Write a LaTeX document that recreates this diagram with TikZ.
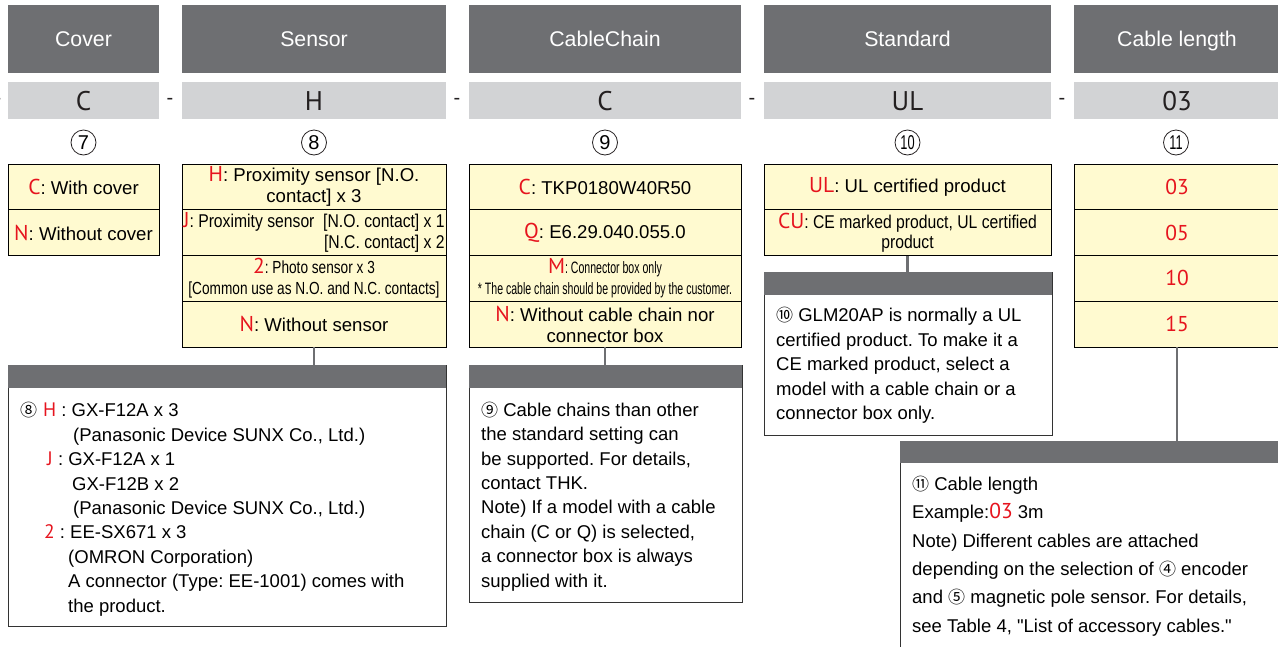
\documentclass[tikz,border=0pt]{standalone}
\usepackage{fontspec}
\setmainfont{Liberation Sans}[Ligatures=TeXOff]
\newfontfamily\labelfont{PT Sans}
\newfontfamily\narrowfont[FakeStretch=0.85]{Liberation Sans}
\newfontfamily\slimfont[FakeStretch=0.78]{Liberation Sans}
\newfontfamily\thinfont[FakeStretch=0.64]{Liberation Sans}
\newfontfamily\symbfont{Noto Sans CJK SC}
\definecolor{headgray}{RGB}{110,111,114}
\definecolor{codegray}{RGB}{210,211,213}
\definecolor{optyellow}{RGB}{255,250,208}
\definecolor{optred}{RGB}{230,20,30}
\definecolor{codeink}{RGB}{35,31,32}
\newcommand{\rd}[1]{{\labelfont\fontsize{21.5}{21}\selectfont\color{optred}#1}}
\newcommand{\rdn}[1]{{\labelfont\fontsize{19.5}{19}\selectfont\color{optred}#1}}
\newcommand{\cn}[1]{{\symbfont\fontsize{17}{17}\selectfont #1}}
\frenchspacing

\begin{document}
\frenchspacing
\begin{tikzpicture}[x=1pt, y=-1pt,
  headbox/.style={fill=headgray, text=white, anchor=north west, inner sep=0pt, outer sep=0pt, minimum height=68pt, text height=15pt, text depth=0pt, font=\fontsize{21.3}{24}\selectfont},
  codebox/.style={fill=codegray, text=codeink, anchor=north west, inner sep=0pt, outer sep=0pt, minimum height=37pt, text height=19pt, text depth=0pt, font=\labelfont\fontsize{27}{30}\selectfont},
  optbox/.style={draw=black, line width=1pt, fill=optyellow, anchor=north west, inner sep=0pt, outer sep=0pt, minimum height=45.75pt, align=center, font=\fontsize{18.6}{21}\selectfont},
  notehead/.style={fill=headgray, anchor=north west, inner sep=0pt, outer sep=0pt, minimum height=23pt},
  notebox/.style={draw=black!80, line width=0.9pt, fill=white, anchor=north west, inner sep=0pt, outer sep=0pt},
  notetext/.style={anchor=base west, inner sep=0pt, align=left, font=\fontsize{18.5}{24.4}\selectfont\frenchspacing},
  circnum/.style={circle, draw=codeink, line width=0.8pt, minimum size=25pt, inner sep=0pt, font=\fontsize{20}{20}\selectfont},
  sepdash/.style={text=codeink, inner sep=0pt, font=\fontsize{20}{20}\selectfont},
  link/.style={draw=headgray, line width=2.8pt}
]
  \useasboundingbox (0,0) rectangle (1278,646);

  % headers
  \node[headbox, minimum width=151pt] (hCover) at (8,5)    {Cover};
  \node[headbox, minimum width=264pt] (hSensor) at (182,5) {Sensor};
  \node[headbox, minimum width=272pt] (hChain) at (469,5)  {CableChain};
  \node[headbox, minimum width=287pt] (hStd) at (764,5)    {Standard};
  \node[headbox, minimum width=206pt] (hLen) at (1074,5)   {Cable length};

  % model code
  \node[codebox, minimum width=151pt] (cCover) at (8,82)    {C};
  \node[codebox, minimum width=264pt] (cSensor) at (182,82) {H};
  \node[codebox, minimum width=272pt] (cChain) at (469,82)  {C};
  \node[codebox, minimum width=287pt] (cStd) at (764,82)    {UL};
  \node[codebox, minimum width=206pt] (cLen) at (1074,82)   {03};
  \node[sepdash] (d0) at (-2,101) {-};
  \node[sepdash] (d1) at (170,101) {-};
  \node[sepdash] (d2) at (457,101) {-};
  \node[sepdash] (d3) at (752,101) {-};
  \node[sepdash] (d4) at (1062,101) {-};

  \node[circnum] (n7) at (83.5,142.5) {7};
  \node[circnum] (n8) at (314,142.5)  {8};
  \node[circnum] (n9) at (605,142.5)  {9};
  \node[circnum, font=\thinfont\fontsize{20}{20}\selectfont] (n10) at (907.5,142.5) {10};
  \node[circnum, font=\thinfont\fontsize{20}{20}\selectfont] (n11) at (1176,142.5)  {11};

  % options
  \node[optbox, minimum width=151pt] (oC) at (8,164)     {\rd{C}: With cover};
  \node[optbox, minimum width=151pt] (oN) at (8,209.75)  {\rd{N}: Without cover};

  \node[optbox, minimum width=264pt] (sH) at (182,164)    {\rd{H}: Proximity sensor [N.O.\\contact] x 3};
  \node[optbox, minimum width=264pt, align=right, font=\narrowfont\fontsize{18.5}{21.5}\selectfont] (sJ) at (182,209.75) {\rd{J}: Proximity sensor\ \ [N.O. contact] x 1\\{[}N.C. contact] x 2};
  \node[optbox, minimum width=264pt, font=\slimfont\fontsize{17.5}{21}\selectfont] (s2) at (182,255.5) {\rd{2}: Photo sensor x 3\\{[}Common use as N.O. and N.C. contacts]};
  \node[optbox, minimum width=264pt] (sN) at (182,301.25) {\rd{N}: Without sensor};

  \node[optbox, minimum width=272pt] (kC) at (469,164)    {\rd{C}: TKP0180W40R50};
  \node[optbox, minimum width=272pt] (kQ) at (469,209.75) {\rd{Q}: E6.29.040.055.0};
  \node[optbox, minimum width=272pt, font=\thinfont\fontsize{16.5}{21}\selectfont] (kM) at (469,255.5) {\rd{M}: Connector box only\\{}* The cable chain should be provided by the customer.};
  \node[optbox, minimum width=272pt] (kN) at (469,301.25) {\rd{N}: Without cable chain nor\\connector box};

  \node[optbox, minimum width=287pt] (tUL) at (764,164)    {\rd{UL}: UL certified product};
  \node[optbox, minimum width=287pt, font=\narrowfont\fontsize{18.5}{20}\selectfont] (tCU) at (764,209.75) {\rd{CU}: CE marked product, UL certified\\product};

  \node[optbox, minimum width=206pt] (l03) at (1074,164)    {\rd{03}};
  \node[optbox, minimum width=206pt] (l05) at (1074,209.75) {\rd{05}};
  \node[optbox, minimum width=206pt] (l10) at (1074,255.5)  {\rd{10}};
  \node[optbox, minimum width=206pt] (l15) at (1074,301.25) {\rd{15}};

  % notes (base = last line)
  \node[notebox, minimum width=438pt, minimum height=261pt] (seBox) at (8,365) {};
  \node[notehead, minimum width=438pt] (seHead) at (8,365) {};
  \node[notetext] (seText) at (20,612) {\cn{⑧}\hspace{6pt}\rdn{H}\ : GX-F12A x 3\\
    \hspace*{53pt}(Panasonic Device SUNX Co., Ltd.)\\
    \hspace*{27pt}\rdn{J}\ : GX-F12A x 1\\
    \hspace*{52pt}GX-F12B x 2\\
    \hspace*{53pt}(Panasonic Device SUNX Co., Ltd.)\\
    \hspace*{24pt}\rdn{2}\ : EE-SX671 x 3\\
    \hspace*{48pt}(OMRON Corporation)\\
    \hspace*{48pt}A connector (Type: EE-1001) comes with\\
    \hspace*{48pt}the product.};

  \node[notebox, minimum width=273pt, minimum height=237pt] (kBox) at (469,365) {};
  \node[notehead, minimum width=273pt] (kHead) at (469,365) {};
  \node[notetext] (kText) at (481,587) {\cn{⑨} Cable chains than other\\the standard setting can\\be supported. For details,\\contact THK.\\Note) If a model with a cable\\chain (C or Q) is selected,\\a connector box is always\\supplied with it.};

  \node[notebox, minimum width=288pt, minimum height=163pt] (tBox) at (764,272) {};
  \node[notehead, minimum width=288pt] (tHead) at (764,272) {};
  \node[notetext] (tText) at (776,419.5) {\cn{⑩} GLM20AP is normally a UL\\certified product. To make it a\\CE marked product, select a\\model with a cable chain or a\\connector box only.};

  \node[notebox, minimum width=390pt, minimum height=230pt] (lBox) at (900,441) {};
  \node[notehead, minimum width=390pt, minimum height=22pt] (lHead) at (900,441) {};
  \node[notetext, font=\fontsize{18.5}{28.3}\selectfont\frenchspacing] (lText) at (912,632) {\cn{⑪} Cable length\\Example:\rd{03} 3m\\Note) Different cables are attached\\depending on the selection of \cn{④} encoder\\and \cn{⑤} magnetic pole sensor. For details,\\see Table 4, "List of accessory cables."};

  % links
  \draw[link] (sN.south) -- (sN.south |- seHead.north);
  \draw[link] (kN.south) -- (kN.south |- kHead.north);
  \draw[link] (tCU.south) -- (tCU.south |- tHead.north);
  \draw[link] (l15.south) -- (l15.south |- lHead.north);
\end{tikzpicture}
\end{document}
